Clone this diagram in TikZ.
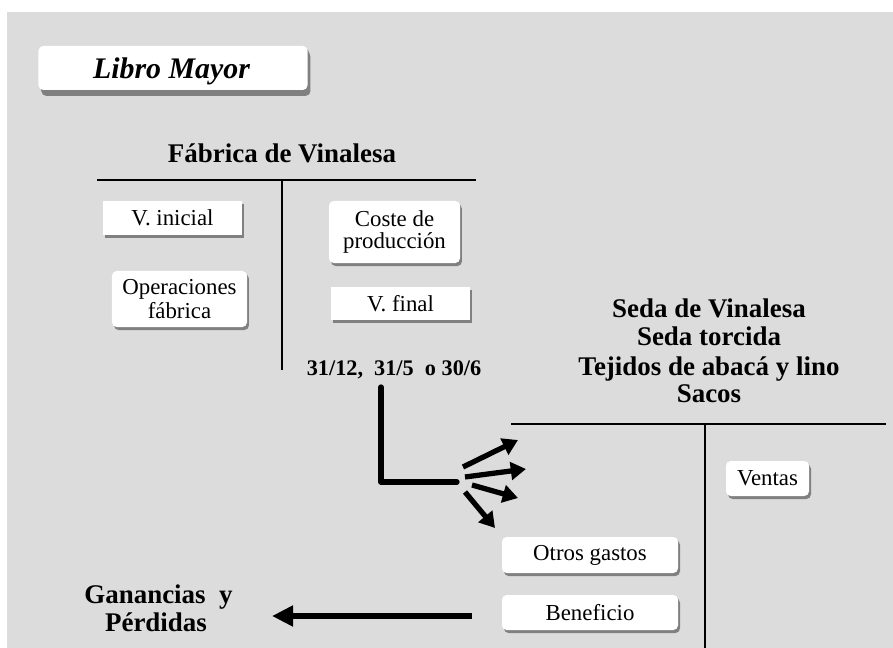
\documentclass[tikz,border=0pt]{standalone}
\usepackage{fontspec}
\setmainfont{Liberation Serif}
\usetikzlibrary{arrows.meta,shadows}
\definecolor{fondo}{HTML}{DCDCDC}
\definecolor{sombra}{HTML}{808080}

\begin{document}
\begin{tikzpicture}[x=0.03cm,y=-0.03cm,
   caja/.style={fill=white,inner sep=0pt,align=center,
     font=\fontsize{19.5}{19.5}\selectfont,
     drop shadow={shadow xshift=1.7pt,shadow yshift=-2.6pt,fill=sombra,opacity=1}},
   cajar/.style={caja,rounded corners=4pt},
   titulo/.style={font=\fontsize{23}{24}\selectfont\bfseries,inner sep=0pt,anchor=base},
   linea/.style={line width=1.5pt},
   flecha/.style={line width=4.5pt,-{Triangle[length=13pt,width=15pt]}}]
   \useasboundingbox (0,0) rectangle (893,648);
   \fill[white] (0,0) rectangle (893,648);
   \fill[fondo] (7,12) rectangle (893,648);

   % Libro Mayor
   \node[cajar,minimum width=8.07cm,minimum height=1.32cm,
     drop shadow={shadow xshift=2.5pt,shadow yshift=-5pt,fill=sombra,opacity=1}]
     (libro) at (173,68) {};
   \node[titulo,font=\fontsize{25.5}{25.5}\selectfont\bfseries\itshape]
     (librot) at (171.5,79) {Libro Mayor};

   % cuenta de la fabrica
   \node[titulo] (fabrica) at (282,163) {Fábrica de Vinalesa};
   \coordinate (fa) at (97,180);
   \coordinate (fb) at (476,180);
   \coordinate (fc) at (282,180);
   \coordinate (fd) at (282,370);
   \draw[linea] (fa) -- (fb);
   \draw[linea] (fc) -- (fd);

   \node[caja,minimum width=4.17cm,minimum height=1.02cm] (vini) at (172.5,218) {V. inicial};
   \node[cajar,minimum width=4.05cm,minimum height=1.68cm,
     font=\fontsize{19.5}{21}\selectfont] (oper) at (179.5,299) {Operaciones\\fábrica};
   \node[cajar,minimum width=3.93cm,minimum height=1.86cm,
     font=\fontsize{19.5}{18}\selectfont] (coste) at (394.5,232) {Coste de\\producción};
   \node[caja,minimum width=4.17cm,minimum height=0.99cm] (vfin) at (400.5,303.5) {V. final};

   \node[titulo,font=\fontsize{19}{19}\selectfont\bfseries] (fechas) at (394,375)
     {31/12,~ 31/5~ o 30/6};

   % cuenta de los productos
   \node[titulo] (seda) at (709,317) {Seda de Vinalesa};
   \node[titulo] (torcida) at (709,345) {Seda torcida};
   \node[titulo] (tejidos) at (709,375) {Tejidos de abacá y lino};
   \node[titulo] (sacos) at (709,402) {Sacos};
   \coordinate (sa) at (511,424);
   \coordinate (sb) at (886,424);
   \coordinate (sc) at (705,424);
   \coordinate (sd) at (705,648);
   \draw[linea] (sa) -- (sb);
   \draw[linea] (sc) -- (sd);

   \node[cajar,minimum width=2.49cm,minimum height=1.05cm] (ventas) at (767.5,478.5) {Ventas};
   \node[cajar,minimum width=5.28cm,minimum height=1.08cm] (otros) at (590,555) {Otros gastos};
   \node[cajar,minimum width=5.28cm,minimum height=1.05cm] (benef) at (590,612.5) {Beneficio};

   % traspaso
   \coordinate (l1) at (381,387);
   \coordinate (l2) at (381,482);
   \coordinate (l3) at (457,482);
   \draw[line width=4.5pt,line cap=round,line join=round] (l1) -- (l2) -- (l3);

   \coordinate (f1) at (463,467);
   \coordinate (g1) at (518,440);
   \coordinate (f2) at (465,477);
   \coordinate (g2) at (526,469);
   \coordinate (f3) at (472,485);
   \coordinate (g3) at (518,498);
   \coordinate (f4) at (465,492);
   \coordinate (g4) at (495,528);
   \draw[flecha] (f1) -- (g1);
   \draw[flecha] (f2) -- (g2);
   \draw[flecha] (f3) -- (g3);
   \draw[flecha] (f4) -- (g4);

   % ganancias y perdidas
   \node[titulo] (ganan) at (158.5,603) {Ganancias~ y};
   \node[titulo] (perd) at (156,631) {Pérdidas};
   \coordinate (b1) at (472,616);
   \coordinate (b2) at (272,616);
   \draw[line width=5.7pt,-{Triangle[length=18pt,width=17pt]}] (b1) -- (b2);
\end{tikzpicture}
\end{document}
